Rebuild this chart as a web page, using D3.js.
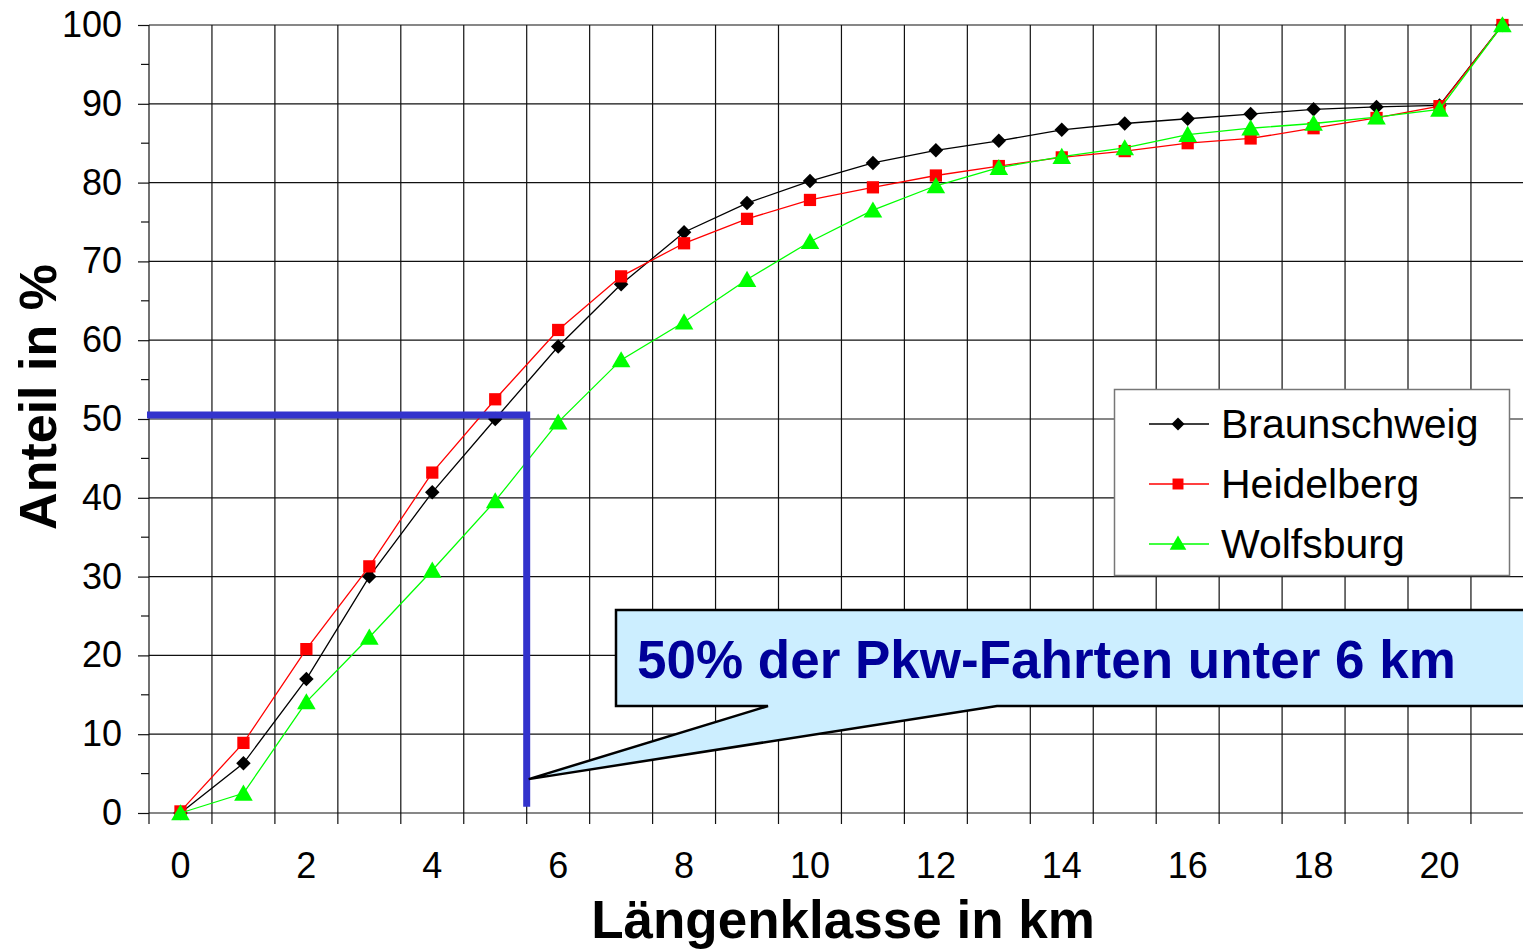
<!DOCTYPE html>
<html>
<head>
<meta charset="utf-8">
<script src="https://cdn.jsdelivr.net/npm/d3@7"></script>
<style>
  body { margin: 0; background: #fff; }
  svg { display: block; font-family: "Liberation Sans", Arial, sans-serif; }
</style>
</head>
<body>
<div id="chart"></div>
<script>
// Data
const classes = d3.range(0, 22);               // Längenklasse 0..21
const xLabels = [0, 2, 4, 6, 8, 10, 12, 14, 16, 18, 20];
const yTicks = [0, 10, 20, 30, 40, 50, 60, 70, 80, 90, 100];
const yMinor = [5, 15, 25, 35, 45, 55, 65, 75, 85, 95];

const braunschweig = [0, 6.3, 17.0, 30.0, 40.7, 50.0, 59.2, 67.1, 73.7, 77.4, 80.2, 82.5,
                      84.1, 85.3, 86.7, 87.5, 88.1, 88.7, 89.3, 89.6, 89.8, 100];
const heidelberg   = [0.2, 8.9, 20.8, 31.3, 43.2, 52.5, 61.3, 68.1, 72.3, 75.4, 77.8, 79.4,
                      80.9, 82.1, 83.2, 84.0, 85.0, 85.6, 86.9, 88.2, 89.7, 100];
const wolfsburg    = [0, 2.5, 14.1, 22.3, 30.8, 39.6, 49.6, 57.5, 62.3, 67.7, 72.5, 76.5,
                      79.6, 81.9, 83.3, 84.4, 86.1, 86.9, 87.5, 88.3, 89.3, 100];

const seriesNames = ["Braunschweig", "Heidelberg", "Wolfsburg"];
const seriesValues = [braunschweig, heidelberg, wolfsburg];
const colors = ["#000000", "#ff0000", "#00ff00"];
// diamond = square turned 45 degrees
const symbols = [d3.symbolSquare, d3.symbolSquare, d3.symbolTriangle];
const symbolRot = [45, 0, 0];
const symbolSizes = [105, 150, 150];

const calloutText = "50% der Pkw-Fahrten unter 6 km";
const markLevel = 50.5;   // blue guide line level
const markClass = 6;      // guide line at boundary of class 6

const W = 1523, H = 950;
const plot = {left: 149, top: 25, bottom: 813};

const svg = d3.select("#chart")
    .append("svg")
    .attr("width", W)
    .attr("height", H);

// Scales
const x = d3.scaleBand()
    .domain(classes)
    .range([plot.left, plot.left + 22 * 62.95])
    .paddingInner(0)
    .paddingOuter(0);
const cx = d => x(d) + x.bandwidth() / 2;

const y = d3.scaleLinear()
    .domain([0, 100])
    .range([plot.bottom, plot.top]);

const right = plot.left + 22 * 62.95;

// Grid
const grid = svg.append("g").attr("stroke", "#111").attr("stroke-width", 1.2);
grid.selectAll("line.h")
    .data(yTicks)
    .enter().append("line")
    .attr("x1", plot.left).attr("x2", right)
    .attr("y1", d => y(d)).attr("y2", d => y(d));
grid.selectAll("line.v")
    .data(d3.range(0, 23))
    .enter().append("line")
    .attr("x1", i => plot.left + i * x.step()).attr("x2", i => plot.left + i * x.step())
    .attr("y1", plot.top).attr("y2", plot.bottom + 11);

// Y axis
const yAxis = d3.axisLeft(y).tickValues(yTicks).tickSize(11).tickPadding(16);
const gy = svg.append("g")
    .attr("transform", `translate(${plot.left},0)`)
    .call(yAxis);
gy.select(".domain").remove();
gy.selectAll(".tick line").attr("stroke", "#111").attr("stroke-width", 1.2);
gy.selectAll(".tick text")
    .attr("font-size", 36)
    .attr("font-family", "Liberation Sans, Arial, sans-serif")
    .attr("fill", "#000");
svg.append("g").selectAll("line")
    .data(yMinor)
    .enter().append("line")
    .attr("x1", plot.left - 8).attr("x2", plot.left)
    .attr("y1", d => y(d)).attr("y2", d => y(d))
    .attr("stroke", "#111").attr("stroke-width", 1.2);

// X axis labels
const xAxis = d3.axisBottom(x).tickValues(xLabels).tickSize(0).tickPadding(0);
const gx = svg.append("g")
    .attr("transform", `translate(0,${plot.bottom})`)
    .call(xAxis);
gx.select(".domain").remove();
gx.selectAll(".tick text")
    .attr("y", 65)
    .attr("dy", 0)
    .attr("font-size", 36)
    .attr("font-family", "Liberation Sans, Arial, sans-serif")
    .attr("fill", "#000");

// Axis titles
svg.append("text")
    .attr("x", 843).attr("y", 938)
    .attr("text-anchor", "middle")
    .attr("font-size", 53).attr("font-weight", "bold")
    .text("Längenklasse in km");
svg.append("text")
    .attr("transform", "translate(56,397) rotate(-90)")
    .attr("text-anchor", "middle")
    .attr("font-size", 52).attr("font-weight", "bold")
    .text("Anteil in %");

// Series
const line = d3.line().x((d, i) => cx(classes[i])).y(d => y(d));
seriesValues.forEach((vals, k) => {
    const g = svg.append("g");
    g.append("path")
        .datum(vals)
        .attr("d", line)
        .attr("fill", "none")
        .attr("stroke", colors[k])
        .attr("stroke-width", 1.3);
    g.selectAll("path.m")
        .data(vals)
        .enter().append("path")
        .attr("class", "m")
        .attr("transform", (d, i) => `translate(${cx(classes[i])},${y(d) + (k === 2 ? 2 : 0)}) rotate(${symbolRot[k]})`)
        .attr("d", d3.symbol().type(symbols[k]).size(symbolSizes[k]))
        .attr("fill", colors[k]);
});

// Blue guide lines
const gx6 = x(markClass);
svg.append("path")
    .attr("d", `M${plot.left - 2},${y(markLevel)} H${gx6} V${y(0.8)}`)
    .attr("fill", "none")
    .attr("stroke", "#3333cc")
    .attr("stroke-width", 7);

// Legend
const legend = svg.append("g");
legend.append("rect")
    .attr("x", 1114.5).attr("y", 389.5)
    .attr("width", 395).attr("height", 186)
    .attr("fill", "#fff")
    .attr("stroke", "#777").attr("stroke-width", 1.5);
seriesNames.forEach((name, k) => {
    const ly = 424 + k * 60;
    legend.append("line")
        .attr("x1", 1149).attr("x2", 1209)
        .attr("y1", ly).attr("y2", ly)
        .attr("stroke", colors[k]).attr("stroke-width", 1.3);
    legend.append("path")
        .attr("transform", `translate(1178,${ly + (k === 2 ? 1 : 0)}) rotate(${symbolRot[k]})`)
        .attr("d", d3.symbol().type(symbols[k]).size(symbolSizes[k] * 0.8))
        .attr("fill", colors[k]);
    legend.append("text")
        .attr("x", 1221).attr("y", ly + 14)
        .attr("font-size", 41)
        .text(name);
});

// Callout
const tipX = gx6 + 2, tipY = y(4.3);
svg.append("path")
    .attr("d", `M616,610 H1540 V706 H997 L${tipX},${tipY} L768,706 H616 Z`)
    .attr("fill", "#cceeff")
    .attr("stroke", "#000")
    .attr("stroke-width", 2.5)
    .attr("stroke-linejoin", "miter");
svg.append("text")
    .attr("x", 637).attr("y", 678)
    .attr("font-size", 53).attr("font-weight", "bold")
    .attr("fill", "#000099")
    .text(calloutText);
</script>
</body>
</html>
